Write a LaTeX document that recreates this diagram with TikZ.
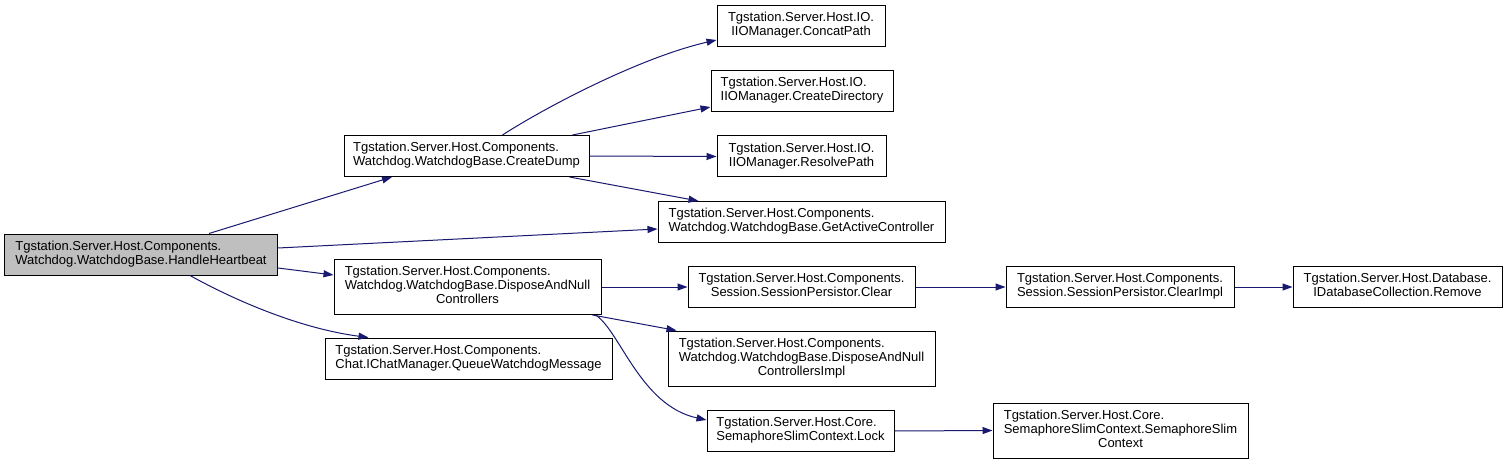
\documentclass[tikz,border=0pt]{standalone}
\usepackage{fontspec}
\setmainfont{Liberation Sans}
\usetikzlibrary{arrows.meta,calc}
\definecolor{edgeblue}{HTML}{191970}
\definecolor{hlgray}{HTML}{BFBFBF}
\newcommand{\gvtwo}[2]{\begin{tabular}{@{}l@{}}#1\\\multicolumn{1}{@{}c@{}}{#2}\end{tabular}}
\newcommand{\gvthree}[3]{\begin{tabular}{@{}l@{}}#1\\#2\\\multicolumn{1}{@{}c@{}}{#3}\end{tabular}}
\tikzset{
  fn/.style={draw=black, fill=white, line width=1pt, rectangle, inner sep=0pt,
    minimum height=41pt, font=\fontsize{13}{14}\selectfont},
  fnthree/.style={fn, minimum height=55pt},
  cur/.style={fill=hlgray},
  call/.style={draw=edgeblue, line width=1pt, -{Triangle[length=10pt,width=7pt]}, color=edgeblue}
}
\begin{document}
\begin{tikzpicture}[x=1pt,y=-1pt]
\useasboundingbox (0,0) rectangle (1509,465);
\fill[white] (0,0) rectangle (1509,465);

\node[fn,cur,minimum width=273pt] (hh) at (141,254.5) {\gvtwo{Tgstation.Server.Host.Components.}{Watchdog.WatchdogBase.HandleHeartbeat}};
\node[fn,minimum width=245pt] (cd) at (466.5,156) {\gvtwo{Tgstation.Server.Host.Components.}{Watchdog.WatchdogBase.CreateDump}};
\node[fnthree,minimum width=267pt] (danc) at (467.5,287) {\gvthree{Tgstation.Server.Host.Components.}{Watchdog.WatchdogBase.DisposeAndNull}{Controllers}};
\node[fn,minimum width=287pt] (queue) at (468.5,358.5) {\gvtwo{Tgstation.Server.Host.Components.}{Chat.IChatManager.QueueWatchdogMessage}};

\node[fn,minimum width=168pt] (concat) at (801,26) {\gvtwo{Tgstation.Server.Host.IO.}{IIOManager.ConcatPath}};
\node[fn,minimum width=182pt] (cdir) at (802,91) {\gvtwo{Tgstation.Server.Host.IO.}{IIOManager.CreateDirectory}};
\node[fn,minimum width=169pt] (resolve) at (801.5,156.5) {\gvtwo{Tgstation.Server.Host.IO.}{IIOManager.ResolvePath}};
\node[fn,minimum width=287pt] (gac) at (801.5,222) {\gvtwo{Tgstation.Server.Host.Components.}{Watchdog.WatchdogBase.GetActiveController}};
\node[fn,minimum width=227pt] (clear) at (801.5,287) {\gvtwo{Tgstation.Server.Host.Components.}{Session.SessionPersistor.Clear}};
\node[fnthree,minimum width=267pt] (dancimpl) at (801.5,358.5) {\gvthree{Tgstation.Server.Host.Components.}{Watchdog.WatchdogBase.DisposeAndNull}{ControllersImpl}};
\node[fn,minimum width=187pt] (lock) at (800.5,431) {\gvtwo{Tgstation.Server.Host.Core.}{SemaphoreSlimContext.Lock}};

\node[fn,minimum width=228pt] (clearimpl) at (1120,287) {\gvtwo{Tgstation.Server.Host.Components.}{Session.SessionPersistor.ClearImpl}};
\node[fnthree,minimum width=255pt] (ctor) at (1120.5,430.5) {\gvthree{Tgstation.Server.Host.Core.}{SemaphoreSlimContext.SemaphoreSlim}{Context}};
\node[fn,minimum width=209pt] (remove) at (1397.5,287) {\gvtwo{Tgstation.Server.Host.Database.}{IDatabaseCollection.Remove}};

% edges from HandleHeartbeat
\draw[call] ($(hh.north)+(68,0)$) -- ($(cd.south)+(-74.5,0)$);
\draw[call] ($(hh.east)+(0,-6.5)$) -- ($(gac.west)+(0,7)$);
\draw[call] ($(hh.east)+(0,13.5)$) -- ($(danc.west)+(0,-12)$);
\draw[call] ($(hh.south)+(49,0)$) .. controls ($(hh.south)+(94,25)$) and ($(hh.south)+(159,53)$) .. ($(queue.north)+(-100,0)$);

% edges from CreateDump
\draw[call] ($(cd.north)+(36,0)$) .. controls ($(cd.north)+(78.5,-27.5)$) and ($(cd.north)+(173.5,-77.5)$) .. ($(concat.west)+(0,14)$);
\draw[call] ($(cd.north)+(106,0)$) -- ($(cdir.west)+(0,16)$);
\draw[call] (cd.east) -- (resolve.west);
\draw[call] ($(cd.south)+(103,0)$) -- ($(gac.north)+(-103,0)$);

% edges from DisposeAndNullControllers
\draw[call] (danc.east) -- (clear.west);
\draw[call] ($(danc.south)+(125,0)$) -- ($(dancimpl.north)+(-125,0)$);
\draw[call] ($(danc.south)+(128,0)$) .. controls ($(danc.south)+(152.5,15.5)$) and ($(danc.south)+(172.5,90.5)$) .. ($(lock.west)+(0,-11)$);

% further edges
\draw[call] (clear.east) -- (clearimpl.west);
\draw[call] (clearimpl.east) -- (remove.west);
\draw[call] (lock.east) -- (ctor.west);
\end{tikzpicture}
\end{document}
